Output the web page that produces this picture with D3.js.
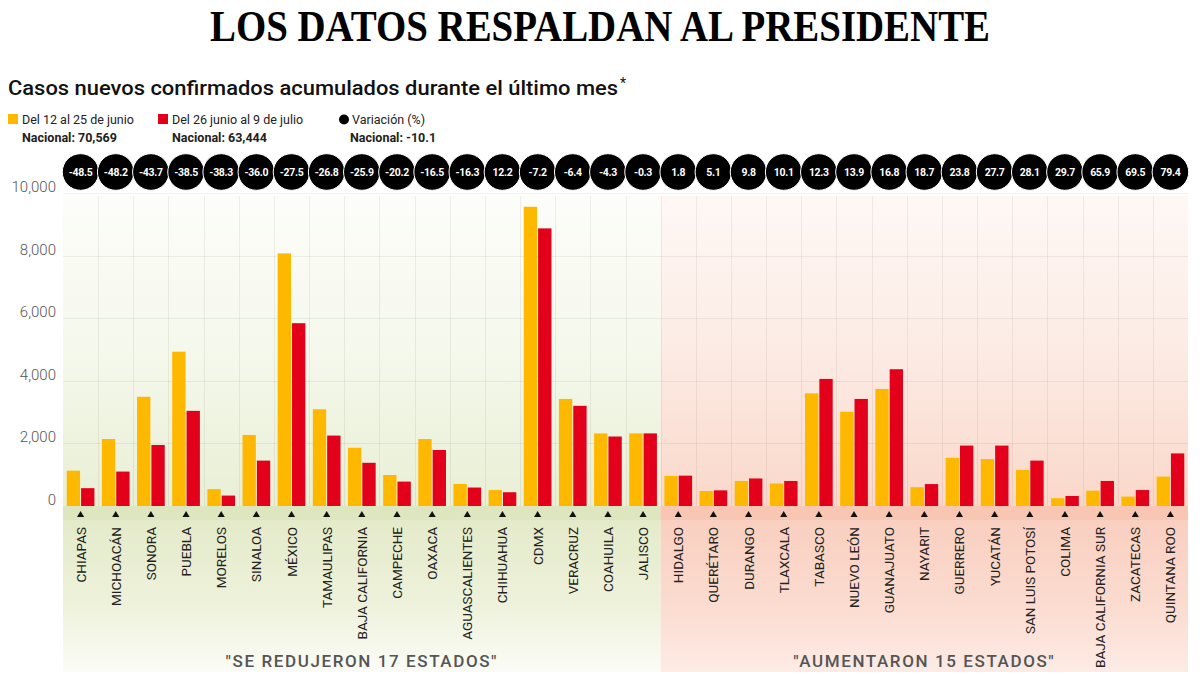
<!DOCTYPE html>
<html><head><meta charset="utf-8">
<script src="https://cdn.jsdelivr.net/npm/d3@7"></script>
<style>body{margin:0;background:#fff}svg{display:block}</style>
</head><body>
<svg id="chart" width="1200" height="675"></svg>
<script>
const states = ["CHIAPAS","MICHOACÁN","SONORA","PUEBLA","MORELOS","SINALOA","MÉXICO","TAMAULIPAS","BAJA CALIFORNIA","CAMPECHE","OAXACA","AGUASCALIENTES","CHIHUAHUA","CDMX","VERACRUZ","COAHUILA","JALISCO","HIDALGO","QUERÉTARO","DURANGO","TLAXCALA","TABASCO","NUEVO LEÓN","GUANAJUATO","NAYARIT","GUERRERO","YUCATÁN","SAN LUIS POTOSÍ","COLIMA","BAJA CALIFORNIA SUR","ZACATECAS","QUINTANA ROO"];
const junio = [1130,2140,3490,4930,540,2270,8070,3090,1860,990,2140,705,510,9560,3420,2320,2320,960,480,800,720,3600,3010,3740,600,1540,1500,1150,247,490,300,940];
const julio = [570,1100,1950,3040,333,1450,5840,2250,1380,780,1790,590,440,8870,3200,2220,2320,970,500,880,800,4060,3420,4370,700,1930,1930,1450,320,800,510,1680];
const variacion = ["-48.5","-48.2","-43.7","-38.5","-38.3","-36.0","-27.5","-26.8","-25.9","-20.2","-16.5","-16.3","12.2","-7.2","-6.4","-4.3","-0.3","1.8","5.1","9.8","10.1","12.3","13.9","16.8","18.7","23.8","27.7","28.1","29.7","65.9","69.5","79.4"];
const yTicks = [0,2000,4000,6000,8000,10000];
const groups = ["Del 12 al 25 de junio","Del 26 junio al 9 de julio"];
const colors = ["#FFB800","#E3001B"];

const svg = d3.select("#chart");
const font = "Roboto, 'Open Sans', sans-serif";

const x = d3.scaleBand().domain(states).range([63,1188]).padding(0);
const x1 = d3.scaleBand().domain([0,1]).range([0,x.bandwidth()]).paddingInner(0.07).paddingOuter(0.26);
const y = d3.scaleLinear().domain([0,10000]).range([506,193]);

const defs = svg.append("defs");
function grad(id, stops){
  const g = defs.append("linearGradient").attr("id",id).attr("x1",0).attr("y1",0).attr("x2",0).attr("y2",1);
  stops.forEach(s=>g.append("stop").attr("offset",s[0]).attr("stop-color",s[1]));
}
grad("gPlotL",[[0,"#fcfdf9"],[0.5,"#f5f8ec"],[1,"#e9efd5"]]);
grad("gPlotR",[[0,"#fef8f5"],[0.5,"#fcebe4"],[1,"#fad8ca"]]);
grad("gLabL",[[0,"#e2e9c6"],[0.6,"#eef2dc"],[1,"#fbfcf6"]]);
grad("gLabR",[[0,"#f9cdbd"],[0.6,"#fbdcd0"],[1,"#fdebe5"]]);

const splitX = x(states[17]);
const plotTop = 196, base = y(0), plotBottom = 672;
// backgrounds
svg.append("rect").attr("x",63).attr("y",plotTop).attr("width",splitX-63).attr("height",base-plotTop).attr("fill","url(#gPlotL)");
svg.append("rect").attr("x",splitX).attr("y",plotTop).attr("width",1188-splitX).attr("height",base-plotTop).attr("fill","url(#gPlotR)");
svg.append("rect").attr("x",63).attr("y",base).attr("width",splitX-63).attr("height",plotBottom-base).attr("fill","url(#gLabL)");
svg.append("rect").attr("x",splitX).attr("y",base).attr("width",1188-splitX).attr("height",plotBottom-base).attr("fill","url(#gLabR)");
svg.append("rect").attr("x",63).attr("y",base).attr("width",splitX-63).attr("height",14).attr("fill","#dde6bf");
svg.append("rect").attr("x",splitX).attr("y",base).attr("width",1188-splitX).attr("height",14).attr("fill","#f8c6b3");

// grid
const grid = svg.append("g").attr("stroke","rgba(0,0,0,0.06)").attr("stroke-width",1);
states.forEach((s,i)=>{ if(i>0){ grid.append("line").attr("x1",Math.round(x(s))+0.5).attr("x2",Math.round(x(s))+0.5).attr("y1",plotTop).attr("y2",base);} });
yTicks.slice(1).forEach(t=>grid.append("line").attr("x1",63).attr("x2",1188).attr("y1",Math.round(y(t))+0.5).attr("y2",Math.round(y(t))+0.5));

// y axis
const yAxis = svg.append("g").attr("transform","translate(56,0)")
  .call(d3.axisLeft(y).tickValues(yTicks).tickFormat(d3.format(",")).tickSize(0).tickPadding(0));
yAxis.select(".domain").remove();
yAxis.selectAll("text").attr("font-family",font).attr("font-size",15).attr("font-weight",300).attr("fill","#555").attr("dy","-0.1em");

// bars
const gBars = svg.append("g");
states.forEach((s,i)=>{
  [junio[i],julio[i]].forEach((v,k)=>{
    gBars.append("rect").attr("x",x(s)+x1(k)).attr("width",x1.bandwidth())
      .attr("y",y(v)).attr("height",y(0)-y(v)).attr("fill",colors[k]);
  });
});

// triangles + state labels
const cx = s => x(s)+x.bandwidth()/2;
states.forEach(s=>{
  svg.append("path").attr("d",d3.symbol(d3.symbolTriangle,22)()).attr("transform",`translate(${cx(s)},515)`).attr("fill","#111");
  svg.append("text").attr("transform",`translate(${cx(s)+5},527) rotate(-90)`).attr("text-anchor","end")
    .attr("font-family",font).attr("font-size",13.5).attr("fill","#222").text(s);
});

// variation circles
states.forEach((s,i)=>{
  svg.append("circle").attr("cx",cx(s)).attr("cy",172).attr("r",18.3).attr("fill","#000").attr("stroke","#fff").attr("stroke-width",1);
  svg.append("text").attr("x",cx(s)).attr("y",176).attr("text-anchor","middle").attr("font-family",font)
    .attr("font-weight",700).attr("font-size",10.5).attr("letter-spacing",-0.3).attr("fill","#fff").text(variacion[i]);
});

// section labels
svg.append("text").attr("x",(63+splitX)/2).attr("y",667).attr("text-anchor","middle").attr("font-family",font)
  .attr("font-size",17).attr("font-weight",500).attr("letter-spacing",1.6).attr("fill","#555").text('"SE REDUJERON 17 ESTADOS"');
svg.append("text").attr("x",(splitX+1188)/2).attr("y",667).attr("text-anchor","middle").attr("font-family",font)
  .attr("font-size",17).attr("font-weight",500).attr("letter-spacing",1.6).attr("fill","#555").text('"AUMENTARON 15 ESTADOS"');

// titles
svg.append("text").attr("x",210).attr("y",41).attr("font-family","'Liberation Serif', serif").attr("font-weight",700)
  .attr("font-size",45).attr("textLength",780).attr("lengthAdjust","spacingAndGlyphs").attr("fill","#000").text("LOS DATOS RESPALDAN AL PRESIDENTE");
svg.append("text").attr("x",8).attr("y",95).attr("font-family",font).attr("font-weight",500)
  .attr("font-size",21).attr("textLength",610).attr("lengthAdjust","spacingAndGlyphs").attr("fill","#111").text("Casos nuevos confirmados acumulados durante el último mes");
svg.append("text").attr("x",620).attr("y",88).attr("font-family",font).attr("font-size",14).attr("fill","#111").text("*");

// legend
const leg = svg.append("g").attr("font-family",font).attr("fill","#222");
const legX = [8,158];
groups.forEach((g,k)=>{
  leg.append("rect").attr("x",legX[k]).attr("y",114).attr("width",10).attr("height",10).attr("fill",colors[k]);
  leg.append("text").attr("x",legX[k]+14).attr("y",124).attr("font-size",12.5).text(g);
});
leg.append("circle").attr("cx",344).attr("cy",119.5).attr("r",5).attr("fill","#000");
leg.append("text").attr("x",352).attr("y",124).attr("font-size",12.5).text("Variación (%)");
const nac = [["Nacional: 70,569",22],["Nacional: 63,444",172],["Nacional: -10.1",350]];
nac.forEach(n=>leg.append("text").attr("x",n[1]).attr("y",142).attr("font-size",12.5).attr("font-weight",700).text(n[0]));
</script>
</body></html>
